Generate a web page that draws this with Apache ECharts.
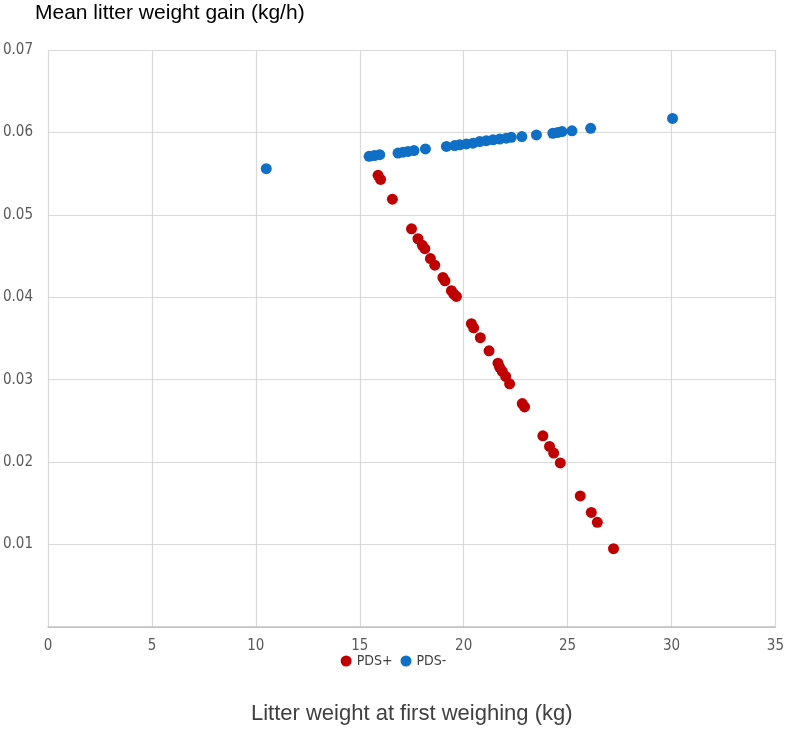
<!DOCTYPE html>
<html>
<head>
<meta charset="utf-8">
<script src="https://cdn.jsdelivr.net/npm/echarts@6/dist/echarts.min.js"></script>
<style>html,body{margin:0;padding:0;background:#fff;}#c{width:787px;height:745px;}</style>
</head>
<body>
<div id="c"></div>
<script>
// PDS+ (red)
const pdsPlusX = [15.88,16.00,16.57,17.49,17.80,18.01,18.13,18.40,18.61,19.00,19.10,19.41,19.52,19.65,20.37,20.48,20.80,21.22,21.65,21.73,21.86,22.02,22.21,22.82,22.93,23.81,24.13,24.33,24.65,25.61,26.14,26.43,27.21];
const pdsPlusY = [0.0548,0.0543,0.0519,0.0483,0.0471,0.0463,0.0459,0.0447,0.0439,0.0424,0.0420,0.0408,0.0404,0.0401,0.0368,0.0363,0.0351,0.0335,0.0320,0.0315,0.0310,0.0304,0.0295,0.0271,0.0267,0.0232,0.0219,0.0211,0.0199,0.0159,0.0139,0.0127,0.0095];
// PDS- (blue)
const pdsMinusX = [10.5,15.45,15.7,15.96,16.84,17.08,17.32,17.61,18.16,19.17,19.57,19.81,20.13,20.45,20.77,21.09,21.41,21.73,22.05,22.29,22.80,23.50,24.29,24.53,24.73,25.21,26.11,30.05];
const pdsMinusY = [0.0556,0.0571,0.0572,0.0573,0.0575,0.0576,0.0577,0.0578,0.0580,0.0583,0.0584,0.0585,0.0586,0.0587,0.0589,0.0590,0.0591,0.0592,0.0593,0.0594,0.0595,0.0597,0.0599,0.0600,0.0601,0.0602,0.0605,0.0617];
const xTicks = {min:0, max:35, interval:5};
const yTicks = {min:0, max:0.07, interval:0.01};
const seriesNames = ['PDS+','PDS-'];
const xTitle = 'Litter weight at first weighing (kg)';
const yTitle = 'Mean litter weight gain (kg/h)';

const zip = (xs, ys) => xs.map((x,i)=>[x, ys[i]]);
const chart = echarts.init(document.getElementById('c'), null, {renderer:'canvas'});
const narrow = '"Liberation Sans Narrow","DejaVu Sans Condensed","Roboto",sans-serif';
chart.setOption({
  animation:false,
  backgroundColor:'#fff',
  title:{text:yTitle, left:35, top:3, padding:0, textStyle:{fontFamily:'"Liberation Sans",Arial,sans-serif', fontSize:21, fontWeight:'normal', color:'#000'}},
  grid:{left:48, right:11, top:50, bottom:118, containLabel:false},
  legend:{data:seriesNames, left:'center', top:649, icon:'circle', itemWidth:11, itemHeight:11, itemGap:8,
    textStyle:{fontFamily:narrow, fontSize:14, color:'#404040'}},
  xAxis:{type:'value', min:xTicks.min, max:xTicks.max, interval:xTicks.interval,
    name:xTitle, nameLocation:'middle', nameGap:76,
    nameTextStyle:{fontFamily:'"Liberation Sans",Arial,sans-serif', fontSize:22, color:'#404040'},
    axisLine:{show:true, lineStyle:{color:'#bfbfbf', width:1.5}},
    axisTick:{show:false},
    axisLabel:{margin:12, fontFamily:narrow, fontSize:15, color:'#595959'},
    splitLine:{show:true, lineStyle:{color:'#d9d9d9', width:1.2}}},
  yAxis:{type:'value', min:yTicks.min, max:yTicks.max, interval:yTicks.interval,
    axisLine:{show:false}, axisTick:{show:false},
    axisLabel:{margin:15, fontFamily:narrow, fontSize:15, color:'#595959',
      formatter:v=> v===0 ? '' : v.toFixed(2)},
    splitLine:{show:true, lineStyle:{color:'#d9d9d9', width:1.2}}},
  series:[
    {name:seriesNames[0], type:'scatter', data:zip(pdsPlusX,pdsPlusY), symbolSize:11, itemStyle:{color:'#C00000', opacity:1}},
    {name:seriesNames[1], type:'scatter', data:zip(pdsMinusX,pdsMinusY), symbolSize:11, itemStyle:{color:'#0F6FC6', opacity:1}}
  ]
});
</script>
</body>
</html>
